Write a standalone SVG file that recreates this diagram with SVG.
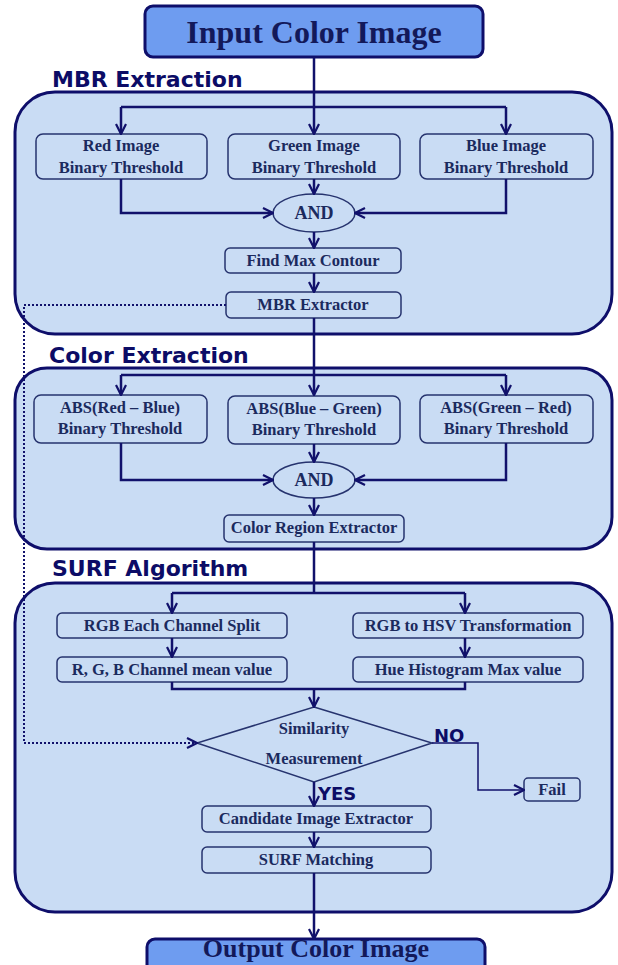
<svg xmlns="http://www.w3.org/2000/svg" width="618" height="965" viewBox="0 0 618 965">
<defs>
<style>
.panel{fill:#c9dcf4;stroke:#0e0e6a;stroke-width:3}
.box{fill:#c9dcf4;stroke:#26336e;stroke-width:1.5}
.io{fill:#6e9cf0;stroke:#0e0e6a;stroke-width:3}
.t{font-family:"Liberation Serif",serif;font-weight:bold;font-size:16.5px;fill:#1b2a5e;text-anchor:middle}
.big{font-family:"Liberation Serif",serif;font-weight:bold;font-size:32px;fill:#13195a;text-anchor:middle}
.h{font-family:"DejaVu Sans",sans-serif;font-weight:bold;font-size:22px;fill:#0c0c66}
.lbl{font-family:"DejaVu Sans",sans-serif;font-weight:bold;font-size:18px;fill:#0c0c66}
.c{fill:none;stroke:#11116b;stroke-width:2.5}
.d{fill:none;stroke:#11116b;stroke-width:2;stroke-dasharray:2,2}
</style>
<marker id="a" viewBox="0 0 12 12" refX="11" refY="6" markerWidth="12" markerHeight="12" markerUnits="userSpaceOnUse" orient="auto">
<path d="M1,1 L11,6 L1,11" fill="none" stroke="#11116b" stroke-width="2.2"/>
</marker>
</defs>
<rect width="618" height="965" fill="#ffffff"/>

<g id="panel-mbr"><rect class="panel" x="15" y="92" width="597" height="242" rx="40"/><text class="h" x="52" y="87">MBR Extraction</text></g>
<g id="panel-color"><rect class="panel" x="15" y="368" width="597" height="181" rx="32"/><text class="h" x="49" y="363">Color Extraction</text></g>
<g id="panel-surf"><rect class="panel" x="15" y="583" width="597" height="329" rx="40"/><text class="h" x="52" y="576">SURF Algorithm</text></g>

<g id="input"><rect class="io" x="145" y="6" width="338" height="51" rx="8"/><text class="big" x="314" y="43">Input Color Image</text></g>

<g id="red"><rect class="box" x="36" y="134" width="171" height="45" rx="7"/><text class="t" x="121" y="151">Red Image</text><text class="t" x="121" y="173">Binary Threshold</text></g>
<g id="green"><rect class="box" x="228" y="134" width="172" height="45" rx="7"/><text class="t" x="314" y="151">Green Image</text><text class="t" x="314" y="173">Binary Threshold</text></g>
<g id="blue"><rect class="box" x="420" y="134" width="173" height="45" rx="7"/><text class="t" x="506" y="151">Blue Image</text><text class="t" x="506" y="173">Binary Threshold</text></g>
<g id="and1"><ellipse class="box" cx="314" cy="213" rx="41" ry="19"/><text class="t" x="314" y="219" style="font-size:18px">AND</text></g>
<g id="findmax"><rect class="box" x="225" y="248" width="176" height="25" rx="5"/><text class="t" x="313" y="266">Find Max Contour</text></g>
<g id="mbrext"><rect class="box" x="226" y="292" width="175" height="26" rx="5"/><text class="t" x="313" y="310">MBR Extractor</text></g>

<g id="absrb"><rect class="box" x="34" y="395" width="173" height="48" rx="7"/><text class="t" x="120" y="413">ABS(Red – Blue)</text><text class="t" x="120" y="434">Binary Threshold</text></g>
<g id="absbg"><rect class="box" x="228" y="396" width="172" height="48" rx="7"/><text class="t" x="314" y="414">ABS(Blue – Green)</text><text class="t" x="314" y="435">Binary Threshold</text></g>
<g id="absgr"><rect class="box" x="420" y="395" width="173" height="48" rx="7"/><text class="t" x="506" y="413">ABS(Green – Red)</text><text class="t" x="506" y="434">Binary Threshold</text></g>
<g id="and2"><ellipse class="box" cx="314" cy="480" rx="41" ry="18"/><text class="t" x="314" y="486" style="font-size:18px">AND</text></g>
<g id="colorreg"><rect class="box" x="224" y="515" width="180" height="27" rx="5"/><text class="t" x="314" y="533">Color Region Extractor</text></g>

<g id="rgbsplit"><rect class="box" x="57" y="613" width="230" height="25" rx="5"/><text class="t" x="172" y="631">RGB Each Channel Split</text></g>
<g id="rgbmean"><rect class="box" x="57" y="657" width="230" height="25" rx="5"/><text class="t" x="172" y="675">R, G, B Channel mean value</text></g>
<g id="hsv"><rect class="box" x="353" y="613" width="230" height="25" rx="5"/><text class="t" x="468" y="631">RGB to HSV Transformation</text></g>
<g id="hue"><rect class="box" x="353" y="657" width="230" height="25" rx="5"/><text class="t" x="468" y="675">Hue Histogram  Max value</text></g>
<g id="sim"><polygon class="box" points="314,707 432,743 314,782 197,743"/><text class="t" x="314" y="734">Similarity</text><text class="t" x="314" y="764">Measurement</text></g>
<g id="fail"><rect class="box" x="524" y="778" width="56" height="23" rx="4"/><text class="t" x="552" y="795">Fail</text></g>
<g id="cand"><rect class="box" x="202" y="806" width="229" height="26" rx="5"/><text class="t" x="316" y="824">Candidate Image Extractor</text></g>
<g id="surfm"><rect class="box" x="202" y="847" width="229" height="26" rx="5"/><text class="t" x="316" y="865">SURF Matching</text></g>
<g id="output"><rect class="io" x="147" y="939" width="338" height="40" rx="8"/><text class="big" x="316" y="957" style="font-size:26px">Output Color Image</text></g>

<g id="connectors">
<path class="c" d="M314,57 V134" marker-end="url(#a)"/>
<path class="c" d="M121,107 H506"/>
<path class="c" d="M121,107 V134" marker-end="url(#a)"/>
<path class="c" d="M506,107 V134" marker-end="url(#a)"/>
<path class="c" d="M121,179 V213 H273" marker-end="url(#a)"/>
<path class="c" d="M506,179 V213 H355" marker-end="url(#a)"/>
<path class="c" d="M314,179 V194" marker-end="url(#a)"/>
<path class="c" d="M314,232 V248" marker-end="url(#a)"/>
<path class="c" d="M314,273 V292" marker-end="url(#a)"/>
<path class="c" d="M314,318 V395" marker-end="url(#a)"/>
<path class="c" d="M121,375 H506"/>
<path class="c" d="M121,375 V395" marker-end="url(#a)"/>
<path class="c" d="M506,375 V395" marker-end="url(#a)"/>
<path class="c" d="M121,443 V480 H273" marker-end="url(#a)"/>
<path class="c" d="M506,443 V480 H355" marker-end="url(#a)"/>
<path class="c" d="M314,444 V462" marker-end="url(#a)"/>
<path class="c" d="M314,498 V515" marker-end="url(#a)"/>
<path class="c" d="M314,542 V593"/>
<path class="c" d="M172,593 H465"/>
<path class="c" d="M172,593 V613" marker-end="url(#a)"/>
<path class="c" d="M465,593 V613" marker-end="url(#a)"/>
<path class="c" d="M172,638 V657" marker-end="url(#a)"/>
<path class="c" d="M465,638 V657" marker-end="url(#a)"/>
<path class="c" d="M172,682 V689 H465 V682"/>
<path class="c" d="M314,689 V707" marker-end="url(#a)"/>
<path class="c" d="M432,743 H478 V790 H524" style="stroke-width:1.5" marker-end="url(#a)"/>
<path class="c" d="M314,782 V806" marker-end="url(#a)"/>
<path class="c" d="M314,832 V847" marker-end="url(#a)"/>
<path class="c" d="M314,873 V939" marker-end="url(#a)"/>
<path class="d" d="M226,305 H24 V743 H197" marker-end="url(#a)"/>
<text class="lbl" x="434" y="742">NO</text>
<text class="lbl" x="318" y="800">YES</text>
</g>
</svg>
